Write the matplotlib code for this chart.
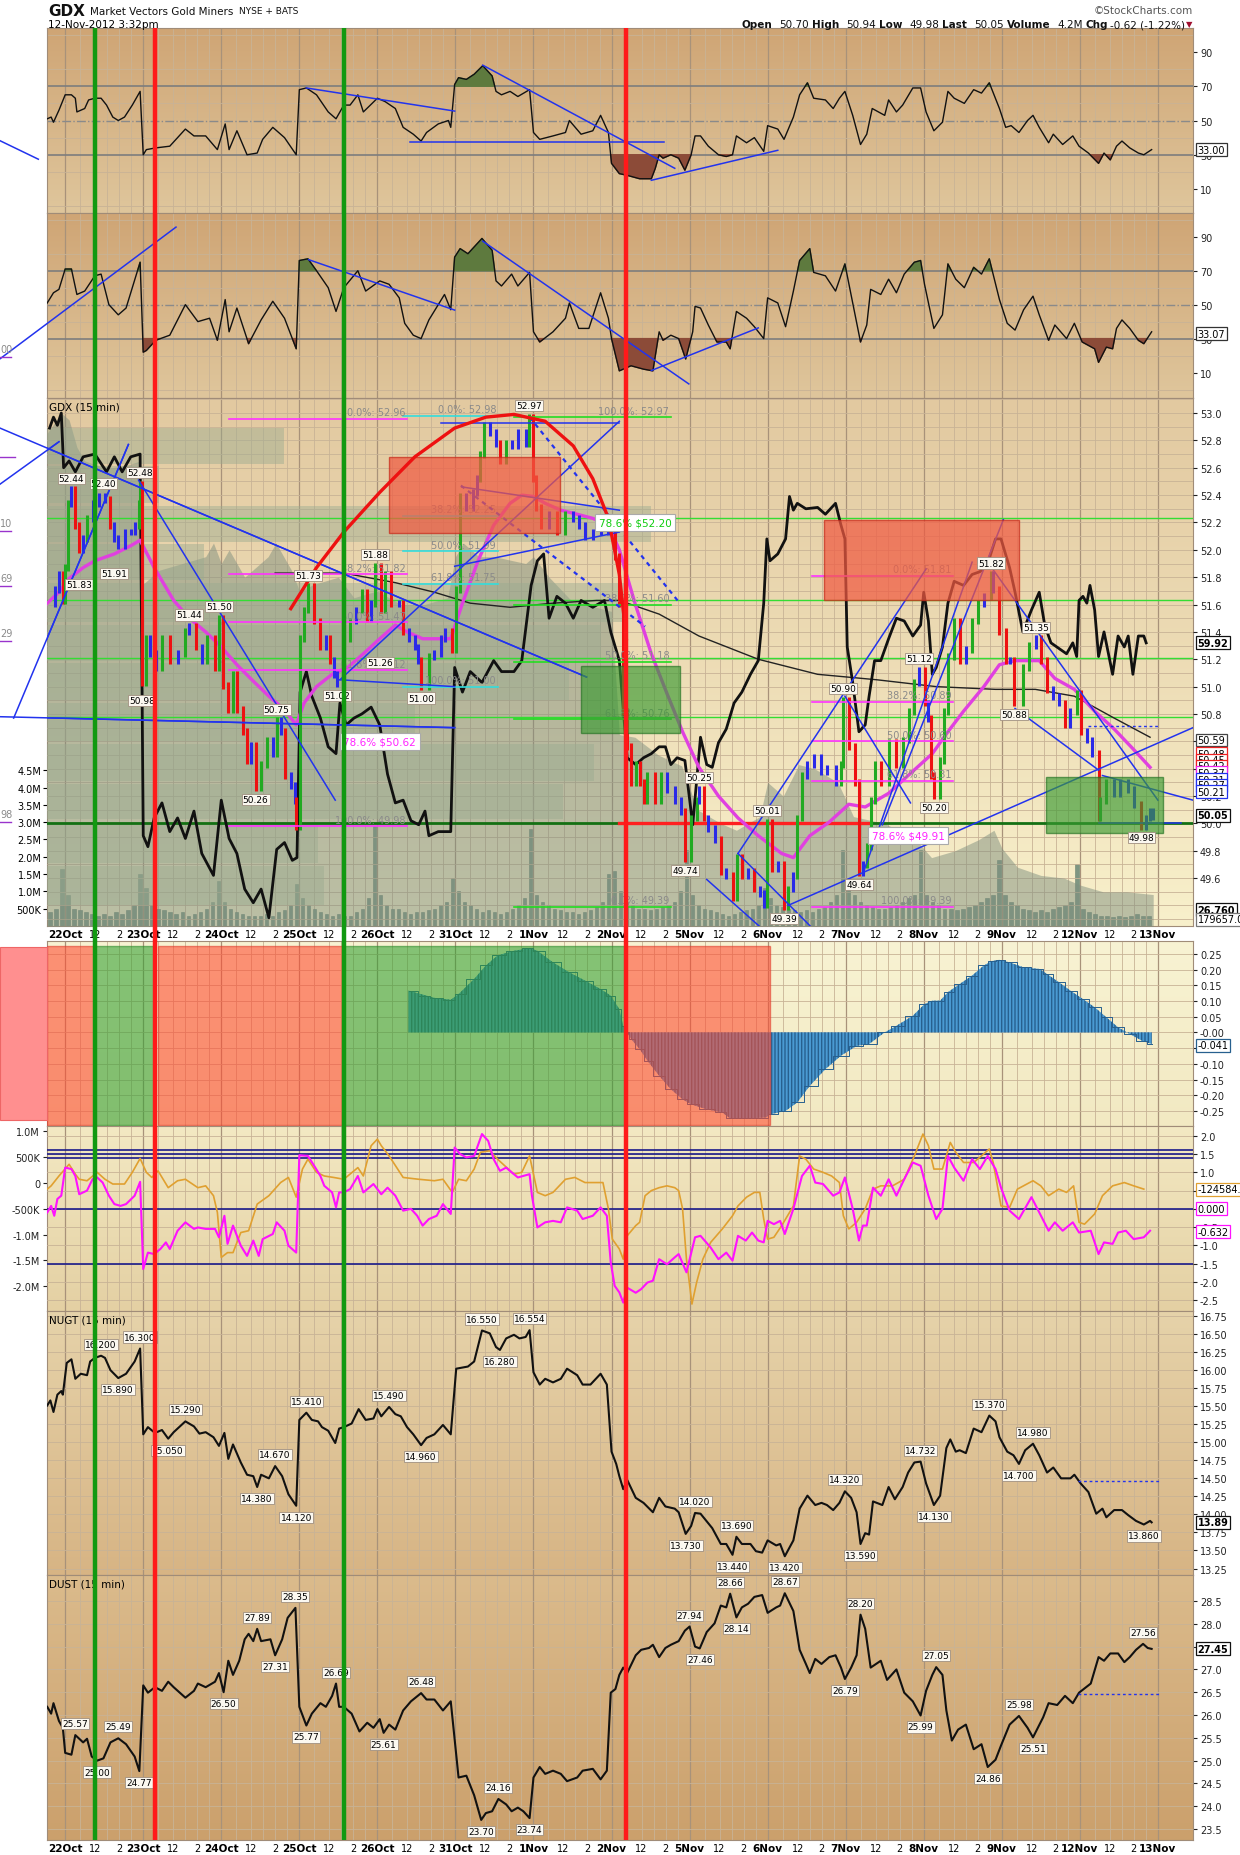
import numpy as np
import matplotlib
matplotlib.use("Agg")
import matplotlib.pyplot as plt
import matplotlib.transforms as mtransforms
from matplotlib.colors import LinearSegmentedColormap
from matplotlib.patches import Rectangle

W, H = 1240, 1856
XMIN, XMAX = -0.233, 14.45

# ---------------- data (x = trading-day index, 0 = 22Oct open) ----------------
DAYS = ['22Oct', '23Oct', '24Oct', '25Oct', '26Oct', '31Oct', '1Nov', '2Nov',
        '5Nov', '6Nov', '7Nov', '8Nov', '9Nov', '12Nov', '13Nov']

RSI1 = [(-0.23, 51), (-0.18, 52), (-0.15, 49), (-0.08, 56), (0.0, 65), (0.08, 65), (0.13, 63), (0.15, 55),
        (0.25, 57), (0.30, 62), (0.38, 63), (0.46, 63), (0.53, 59), (0.61, 52), (0.68, 50), (0.76, 52),
        (0.86, 59), (0.96, 67), (1.0, 30), (1.04, 33), (1.16, 34), (1.34, 35), (1.54, 45), (1.65, 41),
        (1.80, 41), (1.95, 33), (2.05, 48), (2.10, 33), (2.20, 44), (2.33, 30), (2.46, 31), (2.53, 39),
        (2.66, 46), (2.81, 40), (2.96, 30), (3.00, 68), (3.09, 69), (3.22, 65), (3.37, 55), (3.47, 51),
        (3.57, 59), (3.65, 59), (3.75, 65), (3.82, 55), (4.00, 63), (4.10, 61), (4.23, 57), (4.33, 46),
        (4.46, 42), (4.56, 38), (4.63, 43), (4.78, 48), (4.91, 50), (4.94, 46), (4.99, 71), (5.04, 75),
        (5.14, 74), (5.24, 77), (5.35, 82), (5.47, 76), (5.52, 67), (5.59, 65), (5.70, 67), (5.80, 64),
        (5.95, 68), (6.00, 43), (6.08, 39), (6.25, 41), (6.41, 43), (6.46, 50), (6.61, 42), (6.76, 44),
        (6.86, 53), (6.96, 43), (7.00, 25), (7.10, 19), (7.20, 18), (7.36, 16), (7.51, 16), (7.56, 22),
        (7.61, 30), (7.66, 28), (7.76, 30), (7.86, 28), (7.94, 21), (8.02, 30), (8.07, 41), (8.14, 41),
        (8.24, 35), (8.37, 30), (8.47, 29), (8.55, 30), (8.60, 41), (8.73, 37), (8.83, 40), (8.95, 32),
        (9.00, 47), (9.13, 45), (9.21, 39), (9.33, 52), (9.41, 65), (9.51, 72), (9.59, 63), (9.74, 62),
        (9.84, 57), (9.92, 63), (9.99, 67), (10.09, 53), (10.19, 36), (10.27, 42), (10.34, 57), (10.50, 53),
        (10.55, 62), (10.65, 55), (10.73, 59), (10.86, 69), (10.96, 69), (11.03, 55), (11.13, 44), (11.24, 49),
        (11.31, 67), (11.39, 63), (11.52, 60), (11.64, 68), (11.74, 66), (11.84, 72), (11.97, 57), (12.05, 46),
        (12.12, 47), (12.22, 43), (12.33, 50), (12.40, 53), (12.48, 46), (12.60, 37), (12.66, 42), (12.78, 36),
        (12.91, 41), (12.99, 35), (13.11, 31), (13.24, 25), (13.31, 31), (13.39, 27), (13.47, 35), (13.54, 38),
        (13.64, 34), (13.75, 31), (13.82, 30), (13.92, 33)]

RSI2 = [(-0.23, 51), (-0.15, 57), (-0.08, 59), (0.0, 71), (0.08, 71), (0.15, 56), (0.25, 58), (0.38, 67),
        (0.46, 68), (0.56, 50), (0.68, 44), (0.78, 48), (0.96, 75), (1.0, 22), (1.04, 23), (1.16, 29),
        (1.34, 32), (1.54, 50), (1.70, 40), (1.85, 42), (1.95, 29), (2.05, 53), (2.10, 34), (2.20, 48),
        (2.35, 27), (2.51, 41), (2.66, 52), (2.81, 42), (2.96, 24), (3.00, 76), (3.11, 77), (3.22, 70),
        (3.37, 60), (3.47, 46), (3.57, 60), (3.75, 70), (3.85, 58), (4.03, 64), (4.15, 62), (4.28, 54),
        (4.35, 39), (4.46, 32), (4.56, 30), (4.66, 41), (4.78, 50), (4.86, 56), (4.94, 47), (4.99, 78),
        (5.06, 83), (5.16, 80), (5.34, 89), (5.47, 82), (5.52, 64), (5.59, 61), (5.72, 68), (5.80, 61),
        (5.95, 69), (6.00, 34), (6.08, 28), (6.25, 34), (6.41, 42), (6.46, 51), (6.58, 36), (6.71, 36),
        (6.86, 57), (6.96, 42), (7.00, 30), (7.10, 11), (7.25, 14), (7.41, 12), (7.53, 11), (7.61, 34),
        (7.66, 29), (7.76, 32), (7.86, 30), (7.95, 18), (8.04, 34), (8.07, 49), (8.14, 48), (8.24, 38),
        (8.35, 28), (8.47, 28), (8.52, 24), (8.60, 46), (8.73, 42), (8.83, 37), (8.95, 30), (9.00, 54),
        (9.13, 51), (9.23, 37), (9.33, 58), (9.41, 76), (9.54, 83), (9.59, 69), (9.74, 67), (9.87, 58),
        (9.99, 74), (10.09, 51), (10.19, 28), (10.27, 38), (10.32, 59), (10.45, 56), (10.55, 65), (10.65, 57),
        (10.75, 68), (10.88, 75), (10.96, 76), (11.01, 62), (11.13, 36), (11.24, 44), (11.31, 74), (11.41, 65),
        (11.52, 60), (11.64, 72), (11.74, 68), (11.84, 77), (11.97, 53), (12.07, 39), (12.17, 35), (12.28, 47),
        (12.40, 55), (12.48, 44), (12.60, 29), (12.68, 38), (12.83, 30), (12.93, 39), (13.03, 28), (13.19, 24),
        (13.24, 16), (13.34, 25), (13.42, 24), (13.47, 36), (13.54, 41), (13.64, 36), (13.75, 29), (13.82, 27),
        (13.92, 34)]

RSI1_LINES = [((3.09, 69.0), (4.99, 55.5)), ((4.42, 37.3), (7.67, 37.3)), ((5.35, 82.3), (7.81, 22.1)),
              ((7.51, 15.1), (9.13, 32.6)), ((-0.835, 38.2), (-0.344, 27.4))]
RSI2_LINES = [((-0.835, 18.1), (1.42, 95.7)), ((3.12, 76.5), (4.99, 46.8)), ((5.35, 87.4), (7.99, 3.3)),
              ((7.51, 11.2), (8.88, 36.3))]

GDX_PX = [(-0.20, 51.61), (-0.13, 51.71), (-0.08, 51.82), (-0.03, 51.63), (0.0, 51.87), (0.03, 52.34),
          (0.08, 52.44), (0.13, 52.18), (0.18, 52.00), (0.23, 52.08), (0.28, 52.23), (0.36, 52.34),
          (0.43, 52.39), (0.51, 52.37), (0.58, 52.18), (0.63, 52.08), (0.68, 52.03), (0.76, 52.13),
          (0.84, 52.13), (0.89, 52.18), (0.94, 52.34), (0.96, 52.48), (0.98, 51.48), (0.99, 51.03),
          (1.04, 51.35), (1.09, 51.24), (1.16, 51.14), (1.24, 51.35), (1.34, 51.19), (1.44, 51.24),
          (1.54, 51.40), (1.59, 51.44), (1.67, 51.29), (1.75, 51.19), (1.82, 51.35), (1.92, 51.14),
          (1.97, 51.50), (2.02, 51.01), (2.08, 50.83), (2.15, 51.09), (2.20, 50.83), (2.28, 50.67),
          (2.33, 50.46), (2.38, 50.57), (2.44, 50.26), (2.51, 50.43), (2.58, 50.61), (2.66, 50.51),
          (2.71, 50.75), (2.76, 50.67), (2.81, 50.35), (2.89, 50.28), (2.94, 50.17), (2.96, 49.98),
          (3.01, 51.35), (3.06, 51.56), (3.11, 51.73), (3.19, 51.48), (3.27, 51.29), (3.34, 51.35),
          (3.39, 51.19), (3.44, 51.09), (3.48, 51.02), (3.57, 51.35), (3.65, 51.48), (3.72, 51.56),
          (3.80, 51.69), (3.87, 51.50), (3.92, 51.61), (3.97, 51.88), (4.05, 51.56), (4.10, 51.82),
          (4.18, 51.61), (4.28, 51.61), (4.33, 51.40), (4.41, 51.35), (4.48, 51.29), (4.52, 51.19),
          (4.56, 51.00), (4.66, 51.22), (4.73, 51.24), (4.81, 51.35), (4.86, 51.40), (4.96, 51.27),
          (5.01, 51.71), (5.06, 52.39), (5.14, 52.31), (5.22, 52.42), (5.27, 52.52), (5.32, 52.70),
          (5.37, 52.91), (5.44, 52.86), (5.52, 52.78), (5.57, 52.65), (5.65, 52.78), (5.72, 52.76),
          (5.80, 52.86), (5.90, 52.78), (5.94, 52.97), (5.99, 52.52), (6.03, 52.31), (6.10, 52.18),
          (6.20, 52.26), (6.30, 52.13), (6.40, 52.26), (6.51, 52.23), (6.58, 52.18), (6.66, 52.10),
          (6.76, 52.13), (6.86, 52.18), (6.96, 52.13), (7.04, 51.95), (7.10, 51.61), (7.15, 50.82),
          (7.20, 50.56), (7.25, 50.30), (7.31, 50.43), (7.36, 50.30), (7.41, 50.17), (7.46, 50.35),
          (7.56, 50.17), (7.64, 50.35), (7.71, 50.25), (7.81, 50.17), (7.89, 50.09), (7.94, 49.74),
          (8.02, 50.04), (8.09, 50.17), (8.12, 50.25), (8.19, 50.04), (8.24, 49.96), (8.32, 49.88),
          (8.40, 49.65), (8.47, 49.62), (8.55, 49.46), (8.61, 49.75), (8.67, 49.62), (8.75, 49.65),
          (8.83, 49.52), (8.90, 49.49), (8.95, 49.41), (8.99, 50.01), (9.05, 49.67), (9.13, 49.70),
          (9.21, 49.39), (9.26, 49.52), (9.32, 49.62), (9.38, 50.04), (9.44, 50.35), (9.51, 50.43),
          (9.59, 50.48), (9.69, 50.38), (9.76, 50.40), (9.87, 50.30), (9.94, 50.43), (9.97, 50.90),
          (10.04, 50.56), (10.12, 50.30), (10.17, 49.64), (10.22, 49.70), (10.27, 49.83), (10.32, 50.17),
          (10.37, 50.43), (10.45, 50.30), (10.55, 50.59), (10.65, 50.43), (10.73, 50.61), (10.81, 50.82),
          (10.88, 51.03), (10.94, 51.12), (11.01, 50.88), (11.06, 50.77), (11.09, 50.35), (11.13, 50.20),
          (11.21, 50.46), (11.26, 50.82), (11.31, 51.22), (11.39, 51.48), (11.46, 51.19), (11.54, 51.27),
          (11.62, 51.48), (11.69, 51.61), (11.77, 51.66), (11.86, 51.82), (11.89, 51.71), (11.97, 51.40),
          (12.05, 51.19), (12.10, 51.19), (12.16, 50.88), (12.27, 51.14), (12.35, 51.30), (12.44, 51.35),
          (12.50, 51.19), (12.58, 50.98), (12.66, 50.93), (12.73, 50.88), (12.81, 50.72), (12.88, 50.82),
          (12.96, 50.95), (13.01, 50.67), (13.09, 50.61), (13.16, 50.51), (13.24, 50.04), (13.26, 50.17),
          (13.34, 50.30), (13.44, 50.22), (13.52, 50.30), (13.62, 50.25), (13.69, 50.14), (13.79, 49.98),
          (13.85, 50.04), (13.90, 50.09), (13.94, 50.05)]

GDX_EMA = [(-0.23, 51.61), (-0.08, 51.69), (0.05, 51.79), (0.23, 51.87), (0.38, 51.92), (0.63, 51.97),
           (0.84, 52.03), (0.96, 52.07), (1.14, 51.87), (1.39, 51.63), (1.59, 51.50), (1.80, 51.40),
           (2.00, 51.29), (2.20, 51.16), (2.41, 51.04), (2.61, 50.93), (2.81, 50.83), (2.96, 50.72),
           (3.06, 50.88), (3.22, 51.00), (3.42, 51.09), (3.62, 51.14), (3.82, 51.24), (4.03, 51.35),
           (4.23, 51.45), (4.38, 51.40), (4.58, 51.35), (4.78, 51.35), (4.94, 51.35), (5.09, 51.61),
           (5.29, 51.92), (5.49, 52.18), (5.70, 52.34), (5.85, 52.40), (6.00, 52.39), (6.15, 52.34),
           (6.35, 52.29), (6.56, 52.26), (6.76, 52.23), (6.96, 52.18), (7.10, 52.00), (7.30, 51.61),
           (7.51, 51.24), (7.71, 50.95), (7.91, 50.67), (8.12, 50.41), (8.37, 50.20), (8.62, 50.04),
           (8.88, 49.91), (9.18, 49.78), (9.33, 49.75), (9.54, 49.91), (9.79, 50.01), (10.04, 50.14),
           (10.25, 50.12), (10.55, 50.22), (10.80, 50.35), (11.11, 50.51), (11.31, 50.67), (11.51, 50.82),
           (11.77, 51.00), (11.97, 51.16), (12.17, 51.19), (12.48, 51.19), (12.68, 51.06), (12.93, 50.98),
           (13.19, 50.82), (13.44, 50.69), (13.69, 50.54), (13.90, 50.41)]

GDX_MA = [(2.69, 51.83), (3.57, 51.83), (4.23, 51.76), (4.73, 51.69), (5.19, 51.61), (5.70, 51.58),
          (6.25, 51.61), (6.81, 51.63), (7.10, 51.63), (7.61, 51.53), (8.12, 51.37), (8.88, 51.20),
          (9.64, 51.09), (10.40, 51.05), (11.16, 51.00), (11.92, 50.98), (12.43, 50.98), (12.93, 50.93),
          (13.44, 50.77), (13.90, 50.63)]

# second symbol overlaid on the price panel (in price-panel units)
OVERLAY = [(-0.20, 52.89), (-0.15, 52.97), (-0.10, 52.91), (-0.05, 53.0), (-0.02, 52.60), (0.05, 52.65),
           (0.13, 52.57), (0.23, 52.68), (0.38, 52.70), (0.53, 52.57), (0.63, 52.68), (0.73, 52.57),
           (0.84, 52.68), (0.96, 52.70), (1.00, 49.91), (1.06, 49.83), (1.14, 50.04), (1.24, 50.15),
           (1.34, 49.94), (1.44, 50.04), (1.54, 49.89), (1.65, 50.09), (1.75, 49.78), (1.90, 49.62),
           (2.00, 50.17), (2.10, 49.89), (2.20, 49.78), (2.30, 49.52), (2.41, 49.42), (2.51, 49.52),
           (2.61, 49.31), (2.71, 49.81), (2.81, 49.86), (2.91, 49.73), (2.97, 49.75), (3.01, 50.96),
           (3.09, 51.11), (3.16, 50.93), (3.27, 50.77), (3.37, 50.56), (3.47, 50.51), (3.52, 50.88),
           (3.60, 50.72), (3.70, 50.77), (3.80, 50.80), (3.92, 50.85), (4.03, 50.72), (4.13, 50.36),
           (4.23, 50.15), (4.33, 50.17), (4.43, 50.02), (4.53, 49.99), (4.61, 50.09), (4.66, 49.91),
           (4.78, 49.94), (4.94, 49.94), (4.99, 51.14), (5.09, 50.96), (5.19, 51.11), (5.34, 51.03),
           (5.49, 51.19), (5.59, 51.11), (5.75, 51.11), (5.85, 51.19), (5.97, 51.74), (6.05, 51.92),
           (6.13, 51.97), (6.20, 51.50), (6.30, 51.66), (6.41, 51.61), (6.51, 51.50), (6.61, 51.63),
           (6.76, 51.58), (6.91, 51.63), (6.99, 51.40), (7.10, 51.19), (7.20, 50.48), (7.31, 50.43),
           (7.41, 50.48), (7.51, 50.51), (7.61, 50.56), (7.69, 50.56), (7.76, 50.43), (7.84, 50.48),
           (7.94, 50.46), (8.04, 49.99), (8.14, 50.63), (8.22, 50.43), (8.29, 50.41), (8.37, 50.59),
           (8.47, 50.69), (8.57, 50.88), (8.67, 50.96), (8.78, 51.09), (8.88, 51.19), (8.95, 51.61),
           (8.99, 52.08), (9.03, 51.92), (9.13, 51.97), (9.23, 52.08), (9.28, 52.39), (9.33, 52.29),
           (9.38, 52.34), (9.49, 52.30), (9.64, 52.31), (9.74, 52.26), (9.87, 52.34), (9.94, 52.18),
           (9.99, 52.08), (10.02, 51.29), (10.09, 51.03), (10.17, 50.67), (10.25, 50.72), (10.30, 50.93),
           (10.37, 51.19), (10.45, 51.19), (10.55, 51.35), (10.65, 51.50), (10.75, 51.48), (10.86, 51.37),
           (10.96, 51.45), (11.00, 51.69), (11.06, 51.48), (11.11, 51.09), (11.16, 51.14), (11.24, 51.29),
           (11.31, 51.61), (11.39, 51.77), (11.51, 51.74), (11.62, 51.82), (11.72, 51.84), (11.82, 51.90),
           (11.92, 52.08), (11.99, 52.08), (12.10, 51.87), (12.17, 51.69), (12.27, 51.40), (12.38, 51.56),
           (12.48, 51.69), (12.55, 51.45), (12.63, 51.32), (12.83, 51.24), (12.91, 51.32), (12.96, 51.22),
           (12.99, 51.63), (13.04, 51.66), (13.09, 51.61), (13.13, 51.74), (13.19, 51.56), (13.24, 51.22),
           (13.31, 51.40), (13.42, 51.09), (13.49, 51.37), (13.57, 51.29), (13.62, 51.37), (13.68, 51.09),
           (13.75, 51.37), (13.82, 51.37), (13.85, 51.32)]

# shaded comparison area behind the price bars (price-panel units)
AREA = [(-0.233, 52.85), (-0.05, 53.0), (0.05, 52.95), (0.15, 52.75), (0.25, 52.65), (0.40, 52.62),
        (0.60, 52.60), (0.80, 52.62), (0.96, 52.65), (1.00, 51.75), (1.20, 51.85), (1.50, 51.90),
        (1.80, 51.95), (1.90, 52.05), (2.00, 51.90), (2.10, 52.00), (2.30, 51.80), (2.60, 51.95),
        (2.70, 52.05), (2.90, 51.85), (3.00, 51.70), (3.20, 51.75), (3.50, 51.80), (3.70, 51.65),
        (4.00, 51.70), (4.30, 51.60), (4.60, 51.60), (4.90, 51.65), (5.00, 51.95), (5.10, 52.05),
        (5.30, 51.95), (5.50, 51.95), (5.90, 51.90), (6.00, 51.95), (6.20, 51.80), (6.50, 51.62),
        (6.80, 51.58), (7.00, 51.55), (7.10, 50.65), (7.30, 50.63), (7.60, 50.50), (7.90, 50.42),
        (8.10, 50.10), (8.40, 50.00), (8.60, 49.95), (8.90, 50.05), (9.00, 50.30), (9.20, 50.20),
        (9.40, 50.43), (9.60, 50.40), (9.90, 50.30), (10.10, 50.05), (10.50, 50.00), (10.90, 49.88),
        (11.10, 49.75), (11.40, 49.80), (11.70, 49.88), (11.90, 49.95), (12.00, 49.82), (12.20, 49.68),
        (12.50, 49.62), (12.80, 49.60), (13.00, 49.55), (13.30, 49.50), (13.60, 49.50), (13.94, 49.48)]

# volume-by-price bins: lower edge, upper edge, how far right the bar reaches (day)
VBP_LO = [52.62, 52.33, 52.05, 51.77, 51.46, 51.18, 50.89, 50.59, 50.30, 50.02, 49.70, 49.39]
VBP_HI = [52.90, 52.62, 52.33, 52.05, 51.77, 51.46, 51.18, 50.89, 50.59, 50.30, 50.02, 49.70]
VBP_END = [2.80, 1.20, 7.50, 1.78, 7.20, 6.86, 6.46, 4.48, 6.78, 6.38, 3.24, 3.32]

# volume (millions) per half hour
VOL_PRE = [0.4, 0.5, 1.65]
VOLUME = [
    [0.9, 0.5, 0.45, 0.4, 0.35, 0.3, 0.35, 0.3, 0.4, 0.35, 0.45, 0.6, 1.5],
    [1.1, 0.6, 0.5, 0.45, 0.4, 0.35, 0.4, 0.3, 0.35, 0.4, 0.5, 0.7, 1.3],
    [0.7, 0.5, 0.4, 0.35, 0.3, 0.3, 0.3, 0.35, 0.3, 0.4, 0.45, 0.6, 1.2],
    [0.8, 0.6, 0.5, 0.4, 0.35, 0.3, 0.35, 0.3, 0.3, 0.4, 0.5, 0.8, 2.9],
    [0.9, 0.6, 0.5, 0.5, 0.4, 0.35, 0.4, 0.4, 0.45, 0.5, 0.6, 0.7, 1.4],
    [1.0, 0.7, 0.6, 0.5, 0.4, 0.45, 0.4, 0.35, 0.4, 0.5, 0.6, 0.8, 2.8],
    [0.9, 0.7, 0.6, 0.5, 0.45, 0.4, 0.4, 0.35, 0.4, 0.45, 0.55, 0.7, 1.5],
    [1.6, 1.0, 0.7, 0.6, 0.5, 0.5, 0.45, 0.5, 0.55, 0.6, 0.7, 1.0, 2.2],
    [0.9, 0.6, 0.5, 0.45, 0.4, 0.35, 0.3, 0.35, 0.4, 0.45, 0.5, 0.6, 1.1],
    [0.8, 0.6, 0.55, 0.5, 0.45, 0.4, 0.45, 0.4, 0.5, 0.55, 0.7, 0.9, 2.2],
    [1.2, 0.9, 0.7, 0.6, 0.55, 0.5, 0.5, 0.55, 0.6, 0.7, 0.8, 0.9, 2.2],
    [0.9, 0.7, 0.6, 0.5, 0.5, 0.45, 0.5, 0.55, 0.6, 0.7, 0.8, 0.9, 1.9],
    [0.9, 0.7, 0.6, 0.5, 0.45, 0.4, 0.45, 0.4, 0.5, 0.55, 0.6, 0.7, 1.8],
    [0.5, 0.4, 0.35, 0.3, 0.3, 0.25, 0.3, 0.25, 0.3, 0.35, 0.3, 0.3],
]

GDX_LABELS = [(0.08, 52.44, '52.44', 1), (0.49, 52.40, '52.40', 1), (0.96, 52.48, '52.48', 1),
              (0.18, 51.83, '51.83', 0), (0.63, 51.91, '51.91', 0), (1.59, 51.44, '51.44', 1),
              (1.97, 51.50, '51.50', 1), (0.99, 50.98, '50.98', 0), (2.71, 50.75, '50.75', 1),
              (2.44, 50.26, '50.26', 0), (3.11, 51.73, '51.73', 1), (3.97, 51.88, '51.88', 1),
              (4.03, 51.26, '51.26', 0), (3.48, 51.02, '51.02', 0), (4.56, 51.00, '51.00', 0),
              (5.94, 52.97, '52.97', 1), (8.12, 50.25, '50.25', 1), (7.94, 49.74, '49.74', 0),
              (8.99, 50.01, '50.01', 1), (9.21, 49.39, '49.39', 0), (9.97, 50.90, '50.90', 1),
              (10.17, 49.64, '49.64', 0), (10.94, 51.12, '51.12', 1), (11.13, 50.20, '50.20', 0),
              (11.86, 51.82, '51.82', 1), (12.44, 51.35, '51.35', 1), (12.16, 50.88, '50.88', 0),
              (13.79, 49.98, '49.98', 0)]

FIB_MAG1 = [52.96, 51.82, 51.47, 51.12, 49.98]
FIB_MAG1_TXT = ['0.0%: 52.96', '38.2%: 51.82', '50.0%: 51.47', '61.8%: 51.12', '100.0%: 49.98']
FIB_CYAN = [52.98, 52.25, 51.99, 51.75, 51.00]
FIB_CYAN_TXT = ['0.0%: 52.98', '38.2%: 52.25', '50.0%: 51.99', '61.8%: 51.75', '100.0%: 51.00']
FIB_LIME = [52.97, 51.60, 51.18, 50.76, 49.39]
FIB_LIME_TXT = ['100.0%: 52.97', '38.2%: 51.60', '50.0%: 51.18', '61.8%: 50.76', '0.0%: 49.39']
FIB_MAG2 = [51.81, 50.89, 50.60, 50.31, 49.39]
FIB_MAG2_TXT = ['0.0%: 51.81', '38.2%: 50.89', '50.0%: 50.60', '61.8%: 50.31', '100.0%: 49.39']
LIME_LEVELS = [52.23, 51.63, 51.21, 50.78]

GDX_LINES = [((-0.835, 52.89), (6.68, 51.07)), ((0.94, 52.51), (3.46, 50.17)), ((-0.66, 50.77), (0.81, 52.77)),
             ((-0.835, 50.78), (4.99, 50.70)), ((-0.835, 52.48), (-0.08, 52.79)), ((3.52, 51.05), (7.10, 52.94)),
             ((3.52, 51.05), (4.99, 51.00)), ((4.81, 52.93), (7.10, 52.93)), ((5.08, 52.46), (7.10, 52.29)),
             ((4.99, 51.88), (7.10, 52.13)), ((8.62, 49.78), (11.03, 51.86)), ((8.22, 49.59), (8.93, 49.23)),
             ((8.62, 49.78), (9.58, 49.23)), ((9.99, 50.93), (10.83, 50.15)), ((9.26, 49.40), (14.45, 50.70)),
             ((10.22, 49.63), (11.62, 51.91)), ((10.47, 49.99), (12.02, 52.22)), ((11.87, 51.87), (14.0, 50.17)),
             ((12.17, 50.84), (13.24, 50.39)), ((13.29, 50.35), (14.45, 50.17)), ((13.24, 50.0), (14.3, 50.0))]
GDX_DASHED = [((5.95, 52.97), (7.86, 51.62)), ((5.07, 52.47), (7.43, 51.44))]

ARC = [(2.89, 51.57), (3.22, 51.87), (3.57, 52.13), (4.03, 52.42), (4.48, 52.68), (4.99, 52.89),
       (5.39, 52.97), (5.75, 52.99), (6.15, 52.94), (6.51, 52.76), (6.76, 52.52), (6.96, 52.23),
       (7.10, 51.82), (7.19, 51.35)]

MACD_HIST = [(4.40, 0.133), (4.63, 0.117), (4.73, 0.11), (4.94, 0.104), (5.04, 0.122), (5.24, 0.17),
             (5.39, 0.213), (5.54, 0.245), (5.75, 0.26), (5.95, 0.268), (6.05, 0.26), (6.25, 0.223),
             (6.46, 0.191), (6.66, 0.165), (6.86, 0.138), (6.99, 0.117), (7.10, 0.074), (7.15, 0.021),
             (7.20, 0.0), (7.25, -0.021), (7.36, -0.053), (7.46, -0.09), (7.61, -0.138), (7.76, -0.181),
             (7.91, -0.213), (8.02, -0.229), (8.22, -0.245), (8.42, -0.255), (8.52, -0.274), (8.73, -0.274),
             (8.98, -0.271), (9.03, -0.261), (9.23, -0.25), (9.38, -0.223), (9.54, -0.17), (9.74, -0.117),
             (9.94, -0.074), (10.14, -0.043), (10.30, -0.037), (10.50, 0.0), (10.65, 0.021), (10.86, 0.053),
             (11.01, 0.09), (11.11, 0.101), (11.21, 0.101), (11.31, 0.128), (11.46, 0.154), (11.62, 0.181),
             (11.77, 0.213), (11.87, 0.227), (11.97, 0.231), (12.10, 0.223), (12.28, 0.207), (12.48, 0.202),
             (12.58, 0.186), (12.73, 0.16), (12.88, 0.133), (13.04, 0.106), (13.19, 0.08), (13.34, 0.048),
             (13.49, 0.016), (13.64, -0.005), (13.80, -0.027), (13.92, -0.037)]

MACD_ZONES = [(-0.233, 0.38, 'r'), (0.38, 1.14, 'g'), (1.19, 3.56, 'r'), (3.57, 7.18, 'g'), (7.18, 9.03, 'r')]

FLOW_MAG = [(-0.23, -0.1), (-0.18, 0.08), (-0.14, -0.19), (-0.10, 0.27), (-0.05, 0.36), (0.0, 1.13),
            (0.08, 1.09), (0.13, 0.9), (0.18, 0.4), (0.28, 0.5), (0.35, 0.81), (0.41, 0.86), (0.48, 0.72),
            (0.56, 0.36), (0.63, 0.13), (0.71, 0.08), (0.78, 0.13), (0.89, 0.36), (0.96, 0.74), (1.0, -1.65),
            (1.06, -1.2), (1.14, -1.24), (1.22, -1.1), (1.29, -0.92), (1.34, -1.1), (1.44, -0.6), (1.54, -0.37),
            (1.65, -0.55), (1.70, -0.51), (1.80, -0.55), (1.92, -0.55), (1.97, -0.78), (2.04, -0.19), (2.08, -0.96),
            (2.15, -0.46), (2.25, -1.01), (2.33, -1.29), (2.41, -0.87), (2.48, -1.29), (2.53, -0.83), (2.66, -0.69),
            (2.71, -0.37), (2.81, -0.6), (2.86, -1.01), (2.96, -1.2), (3.0, 1.47), (3.11, 1.45), (3.19, 1.18),
            (3.27, 0.9), (3.32, 0.63), (3.42, 0.45), (3.47, 0.04), (3.51, 0.45), (3.57, 0.45), (3.65, 0.54),
            (3.75, 0.9), (3.82, 0.45), (3.95, 0.68), (4.05, 0.4), (4.13, 0.58), (4.23, 0.36), (4.33, -0.05),
            (4.43, 0.0), (4.51, -0.19), (4.58, -0.46), (4.66, -0.28), (4.76, -0.19), (4.84, 0.13), (4.94, -0.14),
            (4.99, 1.68), (5.06, 1.5), (5.14, 1.41), (5.24, 1.45), (5.34, 2.05), (5.42, 1.86), (5.49, 1.36),
            (5.57, 1.04), (5.65, 1.13), (5.72, 1.0), (5.80, 0.86), (5.95, 0.95), (5.98, 0.36), (6.05, -0.51),
            (6.15, -0.37), (6.25, -0.33), (6.35, -0.37), (6.43, 0.04), (6.56, -0.05), (6.63, -0.28), (6.76, -0.19),
            (6.86, 0.04), (6.94, -0.19), (6.99, -1.47), (7.04, -2.11), (7.10, -2.29), (7.15, -2.57), (7.20, -2.16),
            (7.31, -2.3), (7.38, -2.2), (7.46, -2.02), (7.53, -1.97), (7.61, -1.38), (7.71, -1.52), (7.81, -1.33),
            (7.86, -1.24), (7.96, -1.74), (8.07, -0.78), (8.14, -0.74), (8.27, -1.06), (8.37, -1.38), (8.47, -1.2),
            (8.55, -1.42), (8.62, -0.74), (8.72, -0.87), (8.80, -0.65), (8.88, -0.87), (8.95, -0.92), (9.00, -0.33),
            (9.08, -0.42), (9.16, -0.33), (9.22, -0.69), (9.33, 0.0), (9.44, 0.9), (9.54, 1.18), (9.61, 0.72),
            (9.71, 0.68), (9.84, 0.36), (9.92, 0.45), (9.99, 0.86), (10.09, 0.0), (10.17, -0.87), (10.22, -0.46),
            (10.27, -0.46), (10.35, 0.58), (10.45, 0.36), (10.55, 0.81), (10.65, 0.36), (10.75, 0.81), (10.86, 1.27),
            (10.96, 1.18), (11.06, 0.36), (11.16, -0.28), (11.24, 0.0), (11.31, 1.45), (11.39, 1.13), (11.51, 0.77),
            (11.62, 1.36), (11.72, 1.09), (11.82, 1.45), (11.92, 1.09), (11.99, 0.58), (12.10, -0.05), (12.22, -0.28),
            (12.38, 0.32), (12.48, -0.1), (12.60, -0.6), (12.68, -0.37), (12.78, -0.6), (12.91, -0.37), (12.99, -0.65),
            (13.14, -0.6), (13.24, -1.24), (13.31, -0.92), (13.42, -0.96), (13.49, -0.65), (13.59, -0.6), (13.69, -0.83),
            (13.82, -0.78), (13.90, -0.6)]

FLOW_ORG = [(-0.23, 0.54), (-0.18, 0.63), (-0.08, 0.9), (0.05, 1.22), (0.13, 0.95), (0.18, 0.81), (0.28, 0.77),
            (0.41, 1.0), (0.51, 0.81), (0.61, 0.68), (0.76, 0.68), (0.86, 1.0), (0.96, 1.38), (1.04, 1.0),
            (1.11, 0.86), (1.19, 1.04), (1.32, 0.58), (1.44, 0.77), (1.54, 0.81), (1.70, 0.58), (1.80, 0.63),
            (1.90, 0.36), (1.95, -0.1), (2.00, -1.33), (2.08, -1.2), (2.15, -1.2), (2.25, -0.65), (2.35, -0.6),
            (2.46, 0.13), (2.61, 0.36), (2.76, 0.72), (2.86, 0.86), (2.96, 0.32), (3.04, 1.09), (3.11, 1.36),
            (3.22, 1.0), (3.32, 0.9), (3.44, 0.86), (3.57, 0.81), (3.75, 1.13), (3.82, 0.9), (3.92, 1.73),
            (4.00, 1.91), (4.05, 1.73), (4.15, 1.45), (4.33, 0.86), (4.53, 0.81), (4.73, 0.77), (4.84, 0.81),
            (4.96, 0.45), (5.04, 0.81), (5.14, 0.77), (5.24, 1.09), (5.32, 1.55), (5.44, 1.59), (5.54, 1.36),
            (5.75, 0.95), (5.85, 1.0), (5.95, 1.45), (6.05, 0.45), (6.15, 0.36), (6.25, 0.45), (6.41, 0.81),
            (6.53, 0.86), (6.66, 0.72), (6.89, 0.72), (6.96, 0.0), (7.01, -0.83), (7.10, -1.1), (7.15, -1.38),
            (7.20, -0.74), (7.31, -0.46), (7.36, -0.37), (7.43, 0.36), (7.51, 0.5), (7.61, 0.58), (7.71, 0.63),
            (7.81, 0.58), (7.86, 0.5), (7.91, 0.0), (7.96, -1.38), (8.03, -2.61), (8.09, -2.02), (8.17, -1.38),
            (8.27, -0.92), (8.42, -0.55), (8.55, -0.19), (8.62, 0.08), (8.73, 0.32), (8.83, 0.45), (8.90, 0.45),
            (8.95, -0.28), (9.00, -0.83), (9.08, -0.78), (9.18, -0.46), (9.33, 0.08), (9.41, 1.45), (9.49, 1.36),
            (9.59, 1.09), (9.71, 1.0), (9.82, 0.9), (9.92, 0.72), (9.97, -0.19), (10.04, -0.55), (10.14, -0.37),
            (10.25, 0.0), (10.35, 0.54), (10.45, 0.63), (10.60, 0.63), (10.75, 0.81), (10.88, 1.45), (10.99, 2.05),
            (11.06, 1.73), (11.13, 1.09), (11.24, 1.09), (11.34, 1.82), (11.41, 1.55), (11.51, 1.27), (11.64, 1.27),
            (11.74, 1.45), (11.84, 1.64), (11.89, 1.27), (11.99, 0.08), (12.10, 0.04), (12.20, 0.54), (12.40, 0.77),
            (12.50, 0.63), (12.60, 0.36), (12.73, 0.54), (12.83, 0.45), (12.92, 0.63), (12.99, -0.37), (13.06, -0.42),
            (13.19, -0.14), (13.29, 0.36), (13.42, 0.63), (13.57, 0.72), (13.69, 0.63), (13.82, 0.54)]

NUGT = [(-0.23, 15.51), (-0.19, 15.58), (-0.15, 15.42), (-0.10, 15.66), (-0.05, 15.71), (-0.03, 15.66), (0.02, 16.10),
        (0.08, 16.15), (0.13, 15.88), (0.20, 15.95), (0.28, 15.93), (0.32, 16.12), (0.38, 16.17), (0.46, 16.20),
        (0.51, 16.17), (0.58, 16.00), (0.68, 15.89), (0.78, 15.95), (0.89, 16.12), (0.96, 16.30), (1.00, 15.11),
        (1.06, 15.21), (1.15, 15.13), (1.24, 15.17), (1.32, 15.05), (1.39, 15.14), (1.54, 15.29), (1.65, 15.22),
        (1.72, 15.12), (1.80, 15.14), (1.90, 15.07), (1.97, 14.95), (2.04, 15.13), (2.09, 14.77), (2.15, 14.97),
        (2.25, 14.72), (2.33, 14.55), (2.41, 14.53), (2.46, 14.38), (2.51, 14.55), (2.61, 14.50), (2.69, 14.67),
        (2.78, 14.53), (2.86, 14.28), (2.96, 14.12), (3.00, 15.31), (3.09, 15.41), (3.16, 15.31), (3.24, 15.29),
        (3.29, 15.21), (3.37, 15.16), (3.46, 14.99), (3.51, 15.19), (3.57, 15.21), (3.67, 15.26), (3.76, 15.46),
        (3.85, 15.31), (3.95, 15.33), (4.00, 15.46), (4.05, 15.36), (4.15, 15.49), (4.23, 15.39), (4.30, 15.36),
        (4.38, 15.21), (4.46, 15.11), (4.56, 14.96), (4.63, 15.06), (4.73, 15.11), (4.84, 15.24), (4.94, 15.11),
        (5.01, 16.02), (5.16, 16.05), (5.24, 16.12), (5.34, 16.55), (5.44, 16.51), (5.52, 16.32), (5.57, 16.28),
        (5.65, 16.44), (5.75, 16.49), (5.82, 16.44), (5.90, 16.46), (5.95, 16.554), (6.00, 15.97), (6.08, 15.80),
        (6.15, 15.88), (6.25, 15.83), (6.35, 15.88), (6.43, 16.02), (6.56, 15.93), (6.63, 15.80), (6.73, 15.80),
        (6.86, 15.95), (6.94, 15.80), (7.00, 14.87), (7.06, 14.70), (7.10, 14.53), (7.15, 14.35), (7.20, 14.48),
        (7.31, 14.23), (7.41, 14.16), (7.53, 14.03), (7.61, 14.23), (7.69, 14.11), (7.81, 14.08), (7.86, 14.03),
        (7.95, 13.73), (8.02, 13.84), (8.07, 14.02), (8.14, 14.01), (8.29, 13.81), (8.40, 13.59), (8.47, 13.59),
        (8.55, 13.44), (8.60, 13.69), (8.67, 13.59), (8.78, 13.59), (8.85, 13.49), (8.93, 13.47), (9.00, 13.64),
        (9.11, 13.57), (9.16, 13.59), (9.22, 13.42), (9.33, 13.64), (9.41, 14.08), (9.51, 14.26), (9.61, 14.13),
        (9.69, 14.16), (9.76, 14.13), (9.84, 14.06), (9.92, 14.16), (9.99, 14.32), (10.07, 14.23), (10.14, 14.03),
        (10.19, 13.59), (10.25, 13.74), (10.30, 13.72), (10.35, 14.18), (10.47, 14.13), (10.55, 14.38), (10.63, 14.21),
        (10.73, 14.38), (10.80, 14.58), (10.88, 14.72), (10.96, 14.732), (11.03, 14.43), (11.13, 14.13), (11.21, 14.26),
        (11.29, 14.92), (11.34, 15.04), (11.41, 14.87), (11.46, 14.89), (11.54, 14.85), (11.64, 15.19), (11.74, 15.14),
        (11.84, 15.37), (11.92, 15.29), (11.97, 15.07), (12.07, 14.87), (12.15, 14.82), (12.22, 14.70), (12.30, 14.89),
        (12.40, 14.98), (12.48, 14.82), (12.58, 14.58), (12.66, 14.65), (12.76, 14.50), (12.88, 14.50), (12.93, 14.55),
        (13.01, 14.43), (13.11, 14.31), (13.21, 14.01), (13.29, 14.08), (13.34, 13.96), (13.44, 14.06), (13.54, 14.06),
        (13.62, 13.99), (13.72, 13.91), (13.82, 13.86), (13.90, 13.91), (13.92, 13.89)]

NUGT_LABELS = [(0.46, 16.20, '16.200', 1), (0.96, 16.30, '16.300', 1), (0.68, 15.89, '15.890', 0),
               (1.54, 15.29, '15.290', 1), (1.32, 15.05, '15.050', 0), (2.46, 14.38, '14.380', 0),
               (2.69, 14.67, '14.670', 1), (2.96, 14.12, '14.120', 0), (3.09, 15.41, '15.410', 1),
               (4.15, 15.49, '15.490', 1), (4.56, 14.96, '14.960', 0), (5.34, 16.55, '16.550', 1),
               (5.95, 16.554, '16.554', 1), (5.57, 16.28, '16.280', 0), (7.95, 13.73, '13.730', 0),
               (8.07, 14.02, '14.020', 1), (8.55, 13.44, '13.440', 0), (8.60, 13.69, '13.690', 1),
               (9.22, 13.42, '13.420', 0), (9.99, 14.32, '14.320', 1), (10.19, 13.59, '13.590', 0),
               (10.96, 14.732, '14.732', 1), (11.13, 14.13, '14.130', 0), (11.84, 15.37, '15.370', 1),
               (12.40, 14.98, '14.980', 1), (12.22, 14.70, '14.700', 0), (13.82, 13.86, '13.860', 0)]

DUST = [(-0.23, 26.18), (-0.18, 26.03), (-0.15, 26.26), (-0.08, 25.87), (-0.03, 25.72), (0.0, 25.17), (0.08, 25.13),
        (0.13, 25.56), (0.18, 25.48), (0.23, 25.40), (0.28, 25.48), (0.34, 25.09), (0.41, 25.00), (0.49, 25.05),
        (0.58, 25.40), (0.68, 25.49), (0.78, 25.36), (0.89, 25.09), (0.95, 24.77), (1.00, 26.65), (1.06, 26.49),
        (1.15, 26.61), (1.24, 26.53), (1.32, 26.73), (1.39, 26.61), (1.54, 26.38), (1.65, 26.53), (1.70, 26.69),
        (1.80, 26.61), (1.92, 26.73), (1.97, 26.92), (2.03, 26.50), (2.09, 27.19), (2.15, 26.88), (2.23, 27.19),
        (2.30, 27.66), (2.35, 27.78), (2.41, 27.62), (2.46, 27.89), (2.51, 27.62), (2.63, 27.66), (2.69, 27.31),
        (2.78, 27.66), (2.85, 28.13), (2.95, 28.35), (3.00, 26.18), (3.09, 25.77), (3.16, 26.03), (3.27, 26.26),
        (3.34, 26.18), (3.42, 26.42), (3.47, 26.69), (3.51, 26.18), (3.57, 26.18), (3.67, 26.03), (3.77, 25.64),
        (3.87, 25.83), (3.95, 25.72), (4.03, 25.91), (4.08, 25.61), (4.15, 25.79), (4.23, 25.68), (4.33, 26.10),
        (4.43, 26.30), (4.56, 26.48), (4.63, 26.34), (4.73, 26.34), (4.84, 26.10), (4.94, 26.30), (5.04, 24.63),
        (5.14, 24.67), (5.24, 24.24), (5.33, 23.70), (5.39, 23.85), (5.47, 23.89), (5.55, 24.16), (5.65, 24.04),
        (5.72, 23.89), (5.80, 23.97), (5.87, 23.89), (5.95, 23.74), (6.00, 24.63), (6.08, 24.86), (6.15, 24.71),
        (6.25, 24.78), (6.35, 24.71), (6.43, 24.55), (6.56, 24.63), (6.63, 24.78), (6.76, 24.82), (6.86, 24.59),
        (6.94, 24.78), (6.99, 26.49), (7.05, 26.57), (7.10, 26.88), (7.15, 27.04), (7.20, 26.92), (7.31, 27.31),
        (7.38, 27.43), (7.48, 27.47), (7.53, 27.54), (7.61, 27.27), (7.69, 27.47), (7.76, 27.54), (7.86, 27.62),
        (7.94, 27.85), (8.00, 27.94), (8.07, 27.50), (8.13, 27.46), (8.22, 27.82), (8.32, 28.01), (8.40, 28.40),
        (8.47, 28.36), (8.52, 28.66), (8.60, 28.14), (8.67, 28.36), (8.75, 28.44), (8.83, 28.59), (8.93, 28.63),
        (9.00, 28.24), (9.11, 28.36), (9.16, 28.40), (9.22, 28.67), (9.33, 28.28), (9.41, 27.43), (9.49, 27.12),
        (9.54, 26.92), (9.61, 27.23), (9.69, 27.12), (9.79, 27.27), (9.87, 27.31), (9.94, 27.04), (9.99, 26.79),
        (10.07, 27.04), (10.14, 27.31), (10.19, 28.20), (10.25, 27.89), (10.32, 27.04), (10.45, 27.19), (10.53, 26.77),
        (10.65, 27.00), (10.75, 26.49), (10.86, 26.30), (10.96, 25.99), (11.03, 26.53), (11.11, 26.88), (11.16, 27.05),
        (11.24, 26.88), (11.29, 26.10), (11.36, 25.44), (11.44, 25.68), (11.54, 25.79), (11.64, 25.25), (11.74, 25.36),
        (11.82, 24.86), (11.92, 25.02), (11.99, 25.33), (12.10, 25.79), (12.22, 25.98), (12.33, 25.72), (12.40, 25.51),
        (12.53, 25.95), (12.60, 26.26), (12.71, 26.22), (12.81, 26.42), (12.91, 26.26), (12.99, 26.49), (13.14, 26.69),
        (13.24, 27.27), (13.31, 27.19), (13.39, 27.35), (13.49, 27.35), (13.57, 27.16), (13.64, 27.27), (13.72, 27.43),
        (13.81, 27.56), (13.87, 27.47), (13.92, 27.45)]

DUST_LABELS = [(0.13, 25.57, '25.57', 1), (0.41, 25.00, '25.00', 0), (0.68, 25.49, '25.49', 1),
               (0.95, 24.77, '24.77', 0), (2.03, 26.50, '26.50', 0), (2.46, 27.89, '27.89', 1),
               (2.69, 27.31, '27.31', 0), (2.95, 28.35, '28.35', 1), (3.09, 25.77, '25.77', 0),
               (3.47, 26.69, '26.69', 1), (4.08, 25.61, '25.61', 0), (4.56, 26.48, '26.48', 1),
               (5.33, 23.70, '23.70', 0), (5.55, 24.16, '24.16', 1), (5.95, 23.74, '23.74', 0),
               (8.00, 27.94, '27.94', 1), (8.13, 27.46, '27.46', 0), (8.52, 28.66, '28.66', 1),
               (8.60, 28.14, '28.14', 0), (9.22, 28.67, '28.67', 1), (9.99, 26.79, '26.79', 0),
               (10.19, 28.20, '28.20', 1), (10.96, 25.99, '25.99', 0), (11.16, 27.05, '27.05', 1),
               (11.82, 24.86, '24.86', 0), (12.22, 25.98, '25.98', 1), (12.40, 25.51, '25.51', 0),
               (13.81, 27.56, '27.56', 1)]

VLINES = [(0.38, '#119911'), (1.15, '#ff1a1a'), (3.57, '#119911'), (7.18, '#ff1a1a')]


# ---------------- helpers ----------------
def unzip(pts):
    return np.array([p[0] for p in pts]), np.array([p[1] for p in pts])


def frame(top, bot):
    return [47 / W, 1 - bot / H, 1146 / W, (bot - top) / H]


def paint(ax, top, bottom):
    cm = LinearSegmentedColormap.from_list('bg', [bottom, top])
    ax.imshow(np.linspace(1, 0, 256).reshape(-1, 1), cmap=cm, aspect='auto',
              extent=[0, 1, 0, 1], transform=ax.transAxes, zorder=0)


def vgrid(ax):
    for d in range(15):
        ax.axvline(d, color='#a8927a', lw=0.9, zorder=1)
        if d < 14:
            for f in (0.192, 0.385, 0.538, 0.692, 0.846):
                ax.axvline(d + f, color='#c8b396', lw=0.6, zorder=1)


def hgrid(ax, vals):
    for v in vals:
        ax.axhline(v, color='#c8b396', lw=0.6, zorder=1)


def style(ax, ylim, ticks, fmt, right=True):
    ax.set_xlim(XMIN, XMAX)
    ax.set_ylim(*ylim)
    ax.set_xticks([])
    ax.set_yticks(ticks)
    ax.set_yticklabels([fmt % t for t in ticks])
    if right:
        ax.yaxis.tick_right()
    ax.tick_params(axis='y', labelsize=7, length=3, pad=2, colors='#222222')
    for s in ax.spines.values():
        s.set_color('#a08c78')


def rtag(ax, y, txt, ec, bold=False, fc='white'):
    tr = mtransforms.blended_transform_factory(ax.transAxes, ax.transData)
    ax.text(1.004, y, txt, transform=tr, ha='left', va='center', fontsize=7,
            fontweight='bold' if bold else 'normal', clip_on=False, zorder=20,
            bbox=dict(boxstyle='square,pad=0.15', fc=fc, ec=ec, lw=0.9))


def plabel(ax, x, y, txt, hi):
    ax.annotate(txt, (x, y), xytext=(0, 5 if hi else -5), textcoords='offset points',
                ha='center', va='bottom' if hi else 'top', fontsize=6.5, zorder=15,
                bbox=dict(boxstyle='square,pad=0.12', fc='#fbf8f0', ec='#a09080', lw=0.6))


def segs(ax, lines, **kw):
    for (a, b) in lines:
        ax.plot([a[0], b[0]], [a[1], b[1]], **kw)


def date_row(ax, y):
    tr = mtransforms.blended_transform_factory(ax.transData, ax.transAxes)
    for d, name in enumerate(DAYS):
        ax.text(d, y, name, transform=tr, ha='center', va='center', fontsize=7.5,
                fontweight='bold', clip_on=False)
        if d < 14:
            ax.text(d + 0.385, y, '12', transform=tr, ha='center', va='center', fontsize=7, clip_on=False)
            ax.text(d + 0.69, y, '2', transform=tr, ha='center', va='center', fontsize=7, clip_on=False)


def flow(pieces, x_px, y_px, rtl=False):
    # lay out text pieces one after another, measured with the renderer
    rend = fig.canvas.get_renderer()
    seq = list(reversed(pieces)) if rtl else pieces
    x = x_px
    for txt, size, bold, col, gap in seq:
        t = fig.text(x / W, 1 - y_px / H, txt, fontsize=size, va='center',
                     ha='right' if rtl else 'left', fontweight='bold' if bold else 'normal', color=col)
        w = t.get_window_extent(rend).width
        x = x - w - gap if rtl else x + w + gap


fig = plt.figure(figsize=(W / 100, H / 100), dpi=100)
fig.patch.set_facecolor('white')

# ---------------- header ----------------
flow([('GDX', 11, True, '#111111', 5), ('Market Vectors Gold Miners', 7.5, False, '#111111', 6),
      ('NYSE + BATS', 6.5, False, '#111111', 0)], 48, 12)
fig.text(48 / W, 1 - 25 / H, '12-Nov-2012 3:32pm', fontsize=7.5, va='center')
fig.text(1193 / W, 1 - 11 / H, '\u00a9StockCharts.com', fontsize=7.5, va='center', ha='right', color='#555555')
flow([('Open', 7.5, True, '#111111', 3), ('50.70', 7.5, False, '#111111', 7),
      ('High', 7.5, True, '#111111', 3), ('50.94', 7.5, False, '#111111', 7),
      ('Low', 7.5, True, '#111111', 3), ('49.98', 7.5, False, '#111111', 7),
      ('Last', 7.5, True, '#111111', 3), ('50.05', 7.5, False, '#111111', 7),
      ('Volume', 7.5, True, '#111111', 3), ('4.2M', 7.5, False, '#111111', 7),
      ('Chg', 7.5, True, '#111111', 3), ('-0.62 (-1.22%)', 7.5, False, '#111111', 2),
      ('\u25bc', 6, False, '#a01030', 0)], 1192, 25, rtl=True)

# ---------------- RSI panels ----------------
for (top, bot, pts, lines, ylim, tag) in [(29, 214, RSI1, RSI1_LINES, (-4, 104), '33.00'),
                                         (214, 399, RSI2, RSI2_LINES, (-5, 104), '33.07')]:
    ax = fig.add_axes(frame(top, bot))
    paint(ax, '#cfa575', '#dfc69c')
    vgrid(ax)
    hgrid(ax, [0, 20, 40, 60, 80, 100])
    ax.axhline(70, color='#7d7d7d', lw=1.2, zorder=2)
    ax.axhline(30, color='#7d7d7d', lw=1.2, zorder=2)
    ax.axhline(50, color='#8a8a8a', lw=1.0, ls='-.', zorder=2)
    t, v = unzip(pts)
    ax.fill_between(t, 70, v, where=v > 70, interpolate=True, color='#5e7a3e', zorder=3)
    ax.fill_between(t, 30, v, where=v < 30, interpolate=True, color='#8c4b38', zorder=3)
    ax.plot(t, v, color='#111111', lw=1.0, zorder=4)
    segs(ax, lines, color='#2233ee', lw=1.1, zorder=5, clip_on=False)
    style(ax, ylim, [10, 30, 50, 70, 90], '%d')
    rtag(ax, 33, tag, '#333333')

# ---------------- price panel ----------------
axv = fig.add_axes(frame(399, 927))
paint(axv, '#e2c9a0', '#f8f0cb')
vgrid(axv)
for d in range(-1, 14):
    row = VOL_PRE if d < 0 else VOLUME[d]
    x0 = -len(VOL_PRE) / 13 if d < 0 else d
    xs = [x0 + (j + 0.5) / 13 for j in range(len(row))]
    axv.bar(xs, row, width=0.045, color='#7e9682', edgecolor='#6a8470', lw=0.4, zorder=2)
axv.set_xlim(XMIN, XMAX)
axv.set_ylim(0, 15.26)
axv.set_xticks([])
vt = [0.5, 1.0, 1.5, 2.0, 2.5, 3.0, 3.5, 4.0, 4.5]
axv.set_yticks(vt)
axv.set_yticklabels(['500K'] + ['%.1fM' % x for x in vt[1:]])
axv.tick_params(axis='y', labelsize=7, length=3, pad=1)
for s in axv.spines.values():
    s.set_color('#a08c78')
date_row(axv, -8 / 528)

ax3 = fig.add_axes(frame(399, 927))
ax3.patch.set_alpha(0)
hgrid(ax3, np.arange(49.3, 53.11, 0.1))
at, av = unzip(AREA)
ax3.fill_between(at, 49.0, av, color='#7f8f7f', alpha=0.5, lw=0, zorder=2)
for lo, hi, end in zip(VBP_LO, VBP_HI, VBP_END):
    ax3.add_patch(Rectangle((XMIN, lo + 0.01), end - XMIN, hi - lo - 0.02, color='#9aab90',
                            alpha=0.45, lw=0, zorder=2.5))
for lv in LIME_LEVELS:
    ax3.axhline(lv, color='#33dd33', lw=1.0, zorder=3)
ax3.axhline(50.0, color='#137013', lw=2.0, zorder=3)
ax3.plot([7.10, 10.30], [50.0, 50.0], color='#ff2020', lw=2.4, zorder=3.2)
t, v = unzip(GDX_MA)
ax3.plot(t, v, color='#222222', lw=1.0, zorder=3.3)
t, v = unzip(OVERLAY)
ax3.plot(t, v, color='#111111', lw=2.0, zorder=3.5)
t, v = unzip(GDX_EMA)
ax3.plot(t, v, color='#e040e0', lw=2.4, zorder=4)
t, v = unzip(GDX_PX)
for i in range(1, len(t)):
    dv = v[i] - v[i - 1]
    col = '#22aa22' if dv > 0.12 else ('#ee1111' if dv < -0.12 else '#2a2ae8')
    ax3.plot([t[i], t[i]], [min(v[i], v[i - 1]) - 0.025, max(v[i], v[i - 1]) + 0.025],
             color=col, lw=2.2, solid_capstyle='butt', zorder=5)

for levels, txts, x0, x1, col in [(FIB_MAG1, FIB_MAG1_TXT, 2.10, 4.38, '#ff33ff'),
                                  (FIB_CYAN, FIB_CYAN_TXT, 4.33, 5.54, '#33dddd'),
                                  (FIB_LIME, FIB_LIME_TXT, 5.75, 7.76, '#22dd22'),
                                  (FIB_MAG2, FIB_MAG2_TXT, 9.57, 11.38, '#ff33ff')]:
    for lv, tx in zip(levels, txts):
        ax3.plot([x0, x1], [lv, lv], color=col, lw=1.2, zorder=5.5)
        ax3.text(x1 - 0.02, lv + 0.012, tx, ha='right', va='bottom', fontsize=7, color='#8a8a8a', zorder=5.6)

segs(ax3, GDX_LINES, color='#2233ee', lw=1.1, zorder=6, clip_on=True)
segs(ax3, [l for l in GDX_LINES if l[0][0] < XMIN], color='#2233ee', lw=1.1, zorder=6, clip_on=False)
segs(ax3, GDX_DASHED, color='#2233ee', lw=1.6, ls=(0, (2, 2)), zorder=6)
ax3.plot([13.10, 14.02], [50.71, 50.71], color='#2233ee', lw=1.0, ls=(0, (2, 2)), zorder=6)

ax3.add_patch(Rectangle((4.15, 52.12), 2.19, 0.56, fc='#f05a42', ec='#c82a1a', alpha=0.72, lw=1, zorder=6.5))
ax3.add_patch(Rectangle((9.72, 51.63), 2.50, 0.59, fc='#f05a42', ec='#c82a1a', alpha=0.72, lw=1, zorder=6.5))
ax3.add_patch(Rectangle((6.61, 50.66), 1.27, 0.49, fc='#3a9a32', ec='#207020', alpha=0.65, lw=1, zorder=6.5))
ax3.add_patch(Rectangle((12.57, 49.93), 1.50, 0.41, fc='#3a9a32', ec='#207020', alpha=0.65, lw=1, zorder=6.5))
t, v = unzip(ARC)
ax3.plot(t, v, color='#ee1111', lw=2.4, zorder=7)

for x, y, txt, hi in GDX_LABELS:
    plabel(ax3, x, y, txt, hi)
for x, y, txt, col in [(4.03, 50.60, '78.6% $50.62', '#ff22ff'), (7.30, 52.20, '78.6% $52.20', '#11cc11'),
                       (10.80, 49.91, '78.6% $49.91', '#ff22ff')]:
    ax3.text(x, y, txt, ha='center', va='center', fontsize=7.5, color=col, zorder=16,
             bbox=dict(boxstyle='square,pad=0.35', fc='white', ec='#aaaaaa', lw=0.8))
ax3.text(0.002, 0.994, 'GDX (15 min)', transform=ax3.transAxes, fontsize=7.5, va='top', ha='left', zorder=16)
pt = list(np.round(np.arange(49.6, 53.01, 0.2), 1))
style(ax3, (49.25, 53.11), pt, '%.1f')
for s in ax3.spines.values():
    s.set_visible(False)
for y, txt, ec, b in [(51.32, '59.92', '#111111', 1), (50.61, '50.59', '#444444', 0), (50.51, '50.48', '#ee2222', 0),
                      (50.46, '50.45', '#ee2222', 0), (50.42, '50.42', '#ee2222', 0), (50.37, '50.37', '#ee22ee', 0),
                      (50.32, '50.31', '#2233ee', 0), (50.28, '50.27', '#2233ee', 0), (50.23, '50.21', '#2233ee', 0),
                      (50.06, '50.05', '#111111', 1), (49.37, '26.760', '#111111', 1), (49.30, '179657.0', '#777777', 0)]:
    rtag(ax3, y, txt, ec, bool(b))

# ---------------- MACD histogram ----------------
ax4 = fig.add_axes(frame(942, 1127))
paint(ax4, '#f8f3d3', '#f2e9c2')
vgrid(ax4)
hgrid(ax4, np.arange(-0.25, 0.26, 0.05))
t, v = unzip(MACD_HIST)
ax4.fill_between(t, 0, v, facecolor='#4a9ad2', edgecolor='#27608f', hatch='|||||', lw=0, zorder=3)
ax4.plot(t, v, color='#27608f', lw=0.7, drawstyle='steps-mid', zorder=3)
tr4 = mtransforms.blended_transform_factory(ax4.transData, ax4.transAxes)
for x0, x1, c in MACD_ZONES:
    fc, ec = ('#ff4a30', '#e03a2a') if c == 'r' else ('#32a032', '#2a8a2a')
    ax4.add_patch(Rectangle((x0, 0.005), x1 - x0, 0.968, transform=tr4, fc=fc, ec=ec,
                            alpha=0.58, lw=1, zorder=4))
ax4.add_patch(Rectangle((-0.835, 0.03), 0.6, 0.94, transform=tr4, fc='#ff8f8f', ec='#ee6666',
                        lw=0.8, zorder=4, clip_on=False))
style(ax4, (-0.298, 0.291), list(np.round(np.arange(-0.25, 0.26, 0.05), 2)), '%.2f')
rtag(ax4, -0.041, '-0.041', '#27608f')

# ---------------- flow panel ----------------
ax5l = fig.add_axes(frame(1127, 1312))
paint(ax5l, '#f3e9c3', '#e4d0a3')
vgrid(ax5l)
style(ax5l, (-2.48, 1.1), [1.0, 0.5, 0, -0.5, -1.0, -1.5, -2.0], '%s', right=False)
ax5l.set_yticklabels(['1.0M', '500K', '0', '-500K', '-1.0M', '-1.5M', '-2.0M'])
ax5 = fig.add_axes(frame(1127, 1312))
ax5.patch.set_alpha(0)
hgrid(ax5, np.arange(-2.5, 2.1, 0.5))
for lv in (1.6, 1.5, 1.4, 0.0, -1.5):
    ax5.axhline(lv, color='#1a1a8a', lw=1.2, zorder=2)
t, v = unzip(FLOW_ORG)
ax5.plot(t, v, color='#e0a030', lw=1.2, zorder=3)
t, v = unzip(FLOW_MAG)
ax5.plot(t, v, color='#ff11ff', lw=1.5, zorder=4)
style(ax5, (-2.8, 2.27), [2.0, 1.5, 1.0, 0.5, 0.0, -0.5, -1.0, -1.5, -2.0, -2.5], '%.1f')
for s in ax5.spines.values():
    s.set_visible(False)
rtag(ax5, 0.54, '-124584.0', '#e0a030')
rtag(ax5, 0.0, '0.000', '#ff11ff')
rtag(ax5, -0.632, '-0.632', '#ff11ff')

# ---------------- NUGT / DUST ----------------
for (top, bot, pts, labels, ylim, ticks, fmt, title, tag, dash, cols) in [
        (1312, 1576, NUGT, NUGT_LABELS, (13.16, 16.82), list(np.arange(13.25, 16.76, 0.25)), '%.2f',
         'NUGT (15 min)', (13.89, '13.89'), 14.46, ('#e6d3aa', '#d7b484')),
        (1576, 1841, DUST, DUST_LABELS, (23.26, 29.07), list(np.arange(23.5, 28.51, 0.5)), '%.1f',
         'DUST (15 min)', (27.45, '27.45'), 26.47, ('#dbbb8c', '#cba06c'))]:
    ax = fig.add_axes(frame(top, bot))
    paint(ax, *cols)
    vgrid(ax)
    hgrid(ax, ticks)
    t, v = unzip(pts)
    ax.plot(t, v, color='#111111', lw=1.5, zorder=4)
    ax.plot([12.98, 14.02], [dash, dash], color='#2233ee', lw=1.0, ls=(0, (2, 2)), zorder=4)
    for x, y, txt, hi in labels:
        plabel(ax, x, y, txt, hi)
    ax.text(0.002, 0.985, title, transform=ax.transAxes, fontsize=7.5, va='top', ha='left', zorder=16)
    style(ax, ylim, ticks, fmt)
    rtag(ax, tag[0], tag[1], '#111111', bold=True)
    last_ax = ax
date_row(last_ax, -8 / 265)

# left-margin remnants of cut-off annotations
for py, txt in [(355, '00'), (529, '10'), (584, '69'), (639, '29'), (820, '98')]:
    fig.text(0.0, 1 - py / H, txt, fontsize=7, color='#8a8a8a', va='bottom', ha='left')
    fig.add_artist(plt.Line2D([0, 11 / W], [1 - (py + 3) / H] * 2, color='#9933cc', lw=1))
fig.add_artist(plt.Line2D([0, 15 / W], [1 - 458 / H] * 2, color='#9933cc', lw=1))

# ---------------- vertical marker lines over all panels ----------------
ov = fig.add_axes([47 / W, 1 - 1841 / H, 1146 / W, (1841 - 29) / H])
ov.set_xlim(XMIN, XMAX)
ov.set_ylim(0, 1)
ov.axis('off')
for x, c in VLINES:
    ov.axvline(x, color=c, lw=3.2)

fig.savefig('out.png', dpi=100)
